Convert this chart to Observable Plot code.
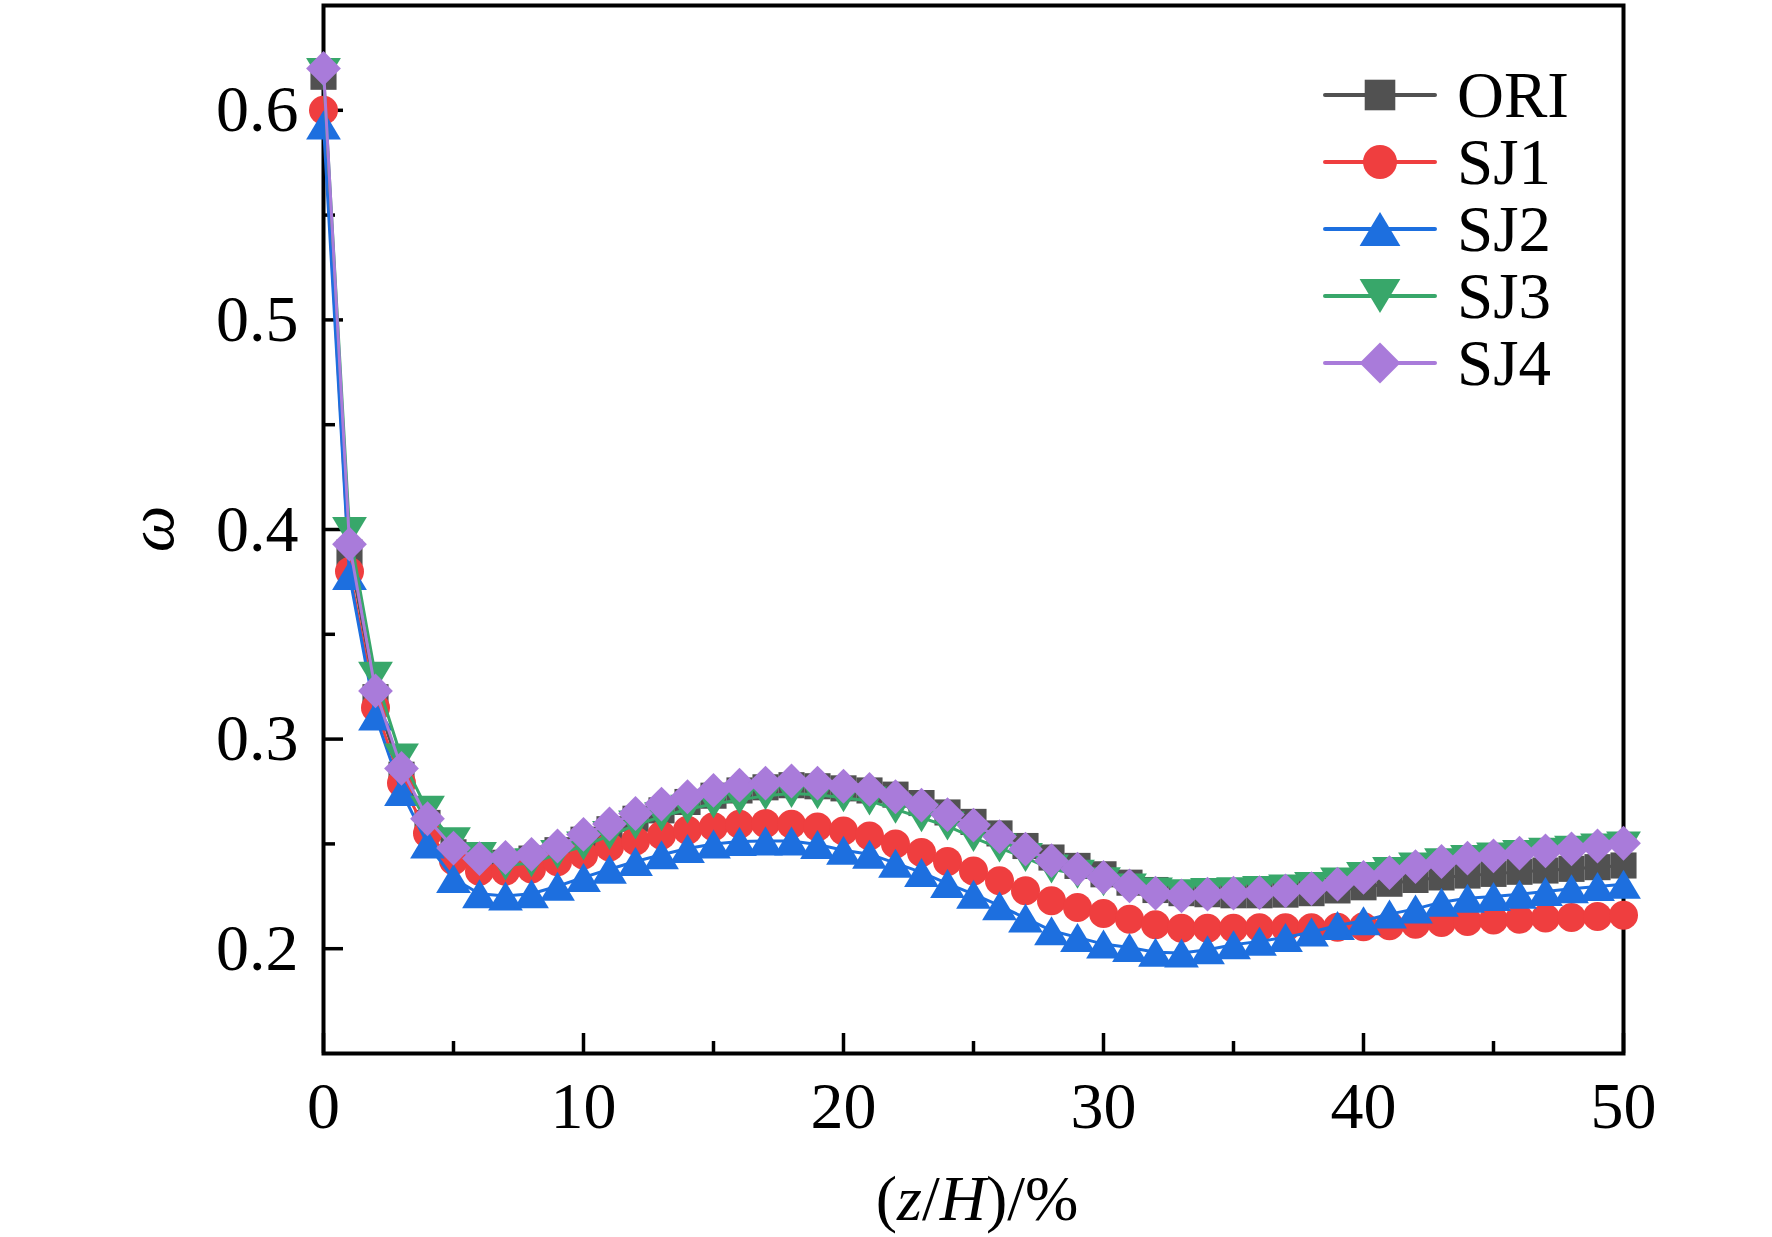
<!DOCTYPE html>
<html>
<head>
<meta charset="utf-8">
<script src="https://cdn.jsdelivr.net/npm/d3@7"></script>
<script src="https://cdn.jsdelivr.net/npm/@observablehq/plot@0.6"></script>
<style>
  html, body { margin: 0; padding: 0; background: #fff; }
  #chart { width: 1772px; height: 1237px; }
</style>
</head>
<body>
<div id="chart"></div>
<script>
// ---- data ----
const zh = [0,1,2,3,4,5,6,7,8,9,10,11,12,13,14,15,16,17,18,19,20,21,22,23,24,25,26,27,28,29,30,31,32,33,34,35,36,37,38,39,40,41,42,43,44,45,46,47,48,49,50];

const ORI = [0.616,0.389,0.320,0.283,0.260,0.246,0.241,0.241,0.243,0.247,0.252,0.257,0.262,0.266,0.270,0.273,0.2755,0.277,0.278,0.2775,0.2765,0.2755,0.2735,0.2695,0.265,0.2605,0.255,0.249,0.2435,0.2395,0.2355,0.2315,0.228,0.2265,0.226,0.2255,0.2255,0.2258,0.2265,0.2278,0.2293,0.231,0.2328,0.234,0.2349,0.2357,0.2367,0.2373,0.2381,0.2389,0.2397];

const SJ1 = [0.600,0.380,0.315,0.279,0.255,0.242,0.237,0.237,0.238,0.2415,0.2447,0.2485,0.2514,0.2541,0.2565,0.2582,0.2594,0.2597,0.2594,0.2581,0.2562,0.2538,0.2499,0.2459,0.2416,0.2371,0.2324,0.2276,0.2229,0.2197,0.2168,0.2141,0.2114,0.2098,0.2098,0.2098,0.2100,0.2100,0.2100,0.2102,0.2105,0.2110,0.2117,0.2125,0.2130,0.2137,0.2141,0.2146,0.2149,0.2154,0.2160];

const SJ2 = [0.593,0.378,0.311,0.275,0.250,0.2335,0.2262,0.2252,0.2262,0.2298,0.234,0.2379,0.2416,0.2448,0.2478,0.250,0.2511,0.2514,0.2514,0.2497,0.247,0.2451,0.2408,0.2364,0.2311,0.2260,0.2205,0.2146,0.2086,0.2054,0.2022,0.2006,0.1983,0.1980,0.1995,0.2019,0.2035,0.2054,0.2080,0.2111,0.2133,0.2165,0.2190,0.2222,0.2241,0.2249,0.2260,0.2273,0.2286,0.2297,0.2308];

const SJ3 = [0.618,0.399,0.330,0.291,0.266,0.251,0.244,0.2395,0.241,0.245,0.249,0.254,0.259,0.263,0.2665,0.269,0.271,0.273,0.274,0.2735,0.272,0.2705,0.2665,0.2625,0.2585,0.253,0.248,0.2435,0.238,0.2355,0.232,0.229,0.227,0.2262,0.2268,0.2272,0.2278,0.2285,0.2297,0.2318,0.2345,0.2368,0.239,0.241,0.2425,0.2437,0.245,0.246,0.247,0.248,0.249];

const SJ4 = [0.620,0.393,0.323,0.286,0.262,0.248,0.243,0.2435,0.245,0.249,0.2545,0.2595,0.2645,0.269,0.2725,0.2755,0.278,0.279,0.280,0.279,0.2775,0.276,0.2725,0.2685,0.264,0.259,0.2535,0.2475,0.242,0.238,0.234,0.230,0.2265,0.2252,0.226,0.2265,0.2268,0.2276,0.2287,0.2308,0.234,0.2363,0.2392,0.2416,0.2432,0.2443,0.2456,0.2467,0.2476,0.249,0.2503];

const seriesNames = ["ORI", "SJ1", "SJ2", "SJ3", "SJ4"];
const seriesValues = [ORI, SJ1, SJ2, SJ3, SJ4];
const seriesColors = ["#515151", "#EF3E3F", "#1D6FDF", "#38A76A", "#A97BDA"];

const xMajor = [0, 10, 20, 30, 40, 50];
const xMinor = [5, 15, 25, 35, 45];
const yMajor = [0.2, 0.3, 0.4, 0.5, 0.6];
const yMinor = [0.25, 0.35, 0.45, 0.55];

// ---- symbols ----
const symSquare = {draw(ctx, size) { const r = Math.sqrt(size / Math.PI), a = 0.9 * r;
  ctx.moveTo(-a, -a); ctx.lineTo(a, -a); ctx.lineTo(a, a); ctx.lineTo(-a, a); ctx.closePath(); }};
const symCircle = {draw(ctx, size) { const r = Math.sqrt(size / Math.PI);
  ctx.moveTo(r, 0); ctx.arc(0, 0, r, 0, 2 * Math.PI); }};
const symUp = {draw(ctx, size) { const r = Math.sqrt(size / Math.PI), w = 1.2 * r;
  ctx.moveTo(0, -r); ctx.lineTo(w, r); ctx.lineTo(-w, r); ctx.closePath(); }};
const symDown = {draw(ctx, size) { const r = Math.sqrt(size / Math.PI), w = 1.2 * r;
  ctx.moveTo(0, r); ctx.lineTo(w, -r); ctx.lineTo(-w, -r); ctx.closePath(); }};
const symDiamond = {draw(ctx, size) { const r = Math.sqrt(size / Math.PI), h = 1.2 * r;
  ctx.moveTo(0, -h); ctx.lineTo(h, 0); ctx.lineTo(0, h); ctx.lineTo(-h, 0); ctx.closePath(); }};
const seriesSymbols = [symSquare, symCircle, symUp, symDown, symDiamond];

// ---- layout ----
const W = 1772, H = 1237;
const mL = 323, mR = 149, mT = 5, mB = 184;
const plotW = W - mL - mR, plotH = H - mT - mB;
const FONT = "'Liberation Serif', 'Times New Roman', serif";

const marks = [
  Plot.frame({stroke: "black", strokeWidth: 4}),
  Plot.tickX(xMajor, {x: d => d, stroke: "black", strokeWidth: 3.5, insetTop: plotH - 20}),
  Plot.tickX(xMinor, {x: d => d, stroke: "black", strokeWidth: 3.5, insetTop: plotH - 12}),
  Plot.tickY(yMajor, {y: d => d, stroke: "black", strokeWidth: 3.5, insetRight: plotW - 20}),
  Plot.tickY(yMinor, {y: d => d, stroke: "black", strokeWidth: 3.5, insetRight: plotW - 12}),
  Plot.axisX(xMajor, {tickSize: 0, tickPadding: 28, fontSize: 66, fill: "black", label: null}),
  Plot.axisY(yMajor, {tickSize: 0, tickPadding: 25, fontSize: 66, fill: "black", label: null, tickFormat: d3.format(".1f")})
];

seriesNames.forEach((name, i) => {
  const rows = zh.map((x, j) => ({x, y: seriesValues[i][j], series: name}));
  marks.push(Plot.line(rows, {x: "x", y: "y", stroke: seriesColors[i], strokeWidth: 3}));
  marks.push(Plot.dot(rows, {x: "x", y: "y", symbol: seriesSymbols[i], r: 14.5, fill: seriesColors[i], stroke: "none"}));
});

const chart = Plot.plot({
  width: W, height: H,
  marginLeft: mL, marginRight: mR, marginTop: mT, marginBottom: mB,
  style: {fontFamily: FONT, background: "white", color: "black", overflow: "visible"},
  x: {domain: [0, 50], axis: null},
  y: {domain: [0.15, 0.65], axis: null},
  marks
});

document.getElementById("chart").appendChild(chart);

// ---- axis titles & legend ----
const svg = d3.select(chart);

const xt = svg.append("text")
  .attr("x", mL + plotW / 2 + 4).attr("y", 1220)
  .attr("text-anchor", "middle")
  .style("font-family", FONT).style("font-size", "64px").attr("fill", "black");
xt.append("tspan").text("(");
xt.append("tspan").attr("font-style", "italic").text("z");
xt.append("tspan").text("/");
xt.append("tspan").attr("font-style", "italic").text("H");
xt.append("tspan").text(")/%");

svg.append("text")
  .attr("transform", `translate(173, ${mT + plotH / 2}) rotate(-90)`)
  .attr("text-anchor", "middle")
  .style("font-family", FONT).style("font-size", "66px").style("font-style", "italic")
  .attr("fill", "black").text("ω");

const legendRows = [95, 162, 229, 296, 363];
const lg = svg.append("g");
seriesNames.forEach((name, i) => {
  const yy = legendRows[i];
  lg.append("line").attr("x1", 1325).attr("x2", 1435).attr("y1", yy).attr("y2", yy)
    .attr("stroke", seriesColors[i]).attr("stroke-width", 4).attr("stroke-linecap", "round");
  const p = d3.path();
  seriesSymbols[i].draw(p, Math.PI * 17 * 17);
  lg.append("path").attr("d", p.toString()).attr("transform", `translate(1380, ${yy})`)
    .attr("fill", seriesColors[i]);
  lg.append("text").attr("x", 1457).attr("y", yy + 22)
    .attr("text-anchor", "start")
    .style("font-family", FONT).style("font-size", "65px").attr("fill", "black").text(name);
});
</script>
</body>
</html>
